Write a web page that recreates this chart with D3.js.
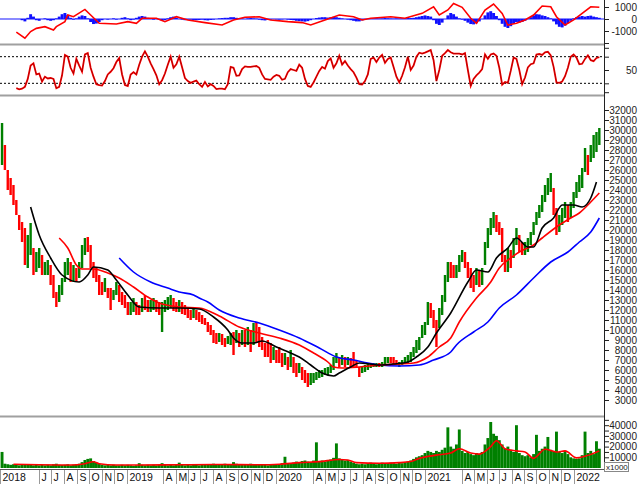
<!DOCTYPE html>
<html><head><meta charset="utf-8">
<script src="https://cdn.jsdelivr.net/npm/d3@7"></script>
<style>body{margin:0;background:#fff}svg{display:block}</style>
</head><body>
<svg id="chart" width="640" height="484"></svg>
<script>
// ---------------- DATA (weekly samples) ----------------
const firstWeek = "2018-03-02";
const priceHigh = [
30700,28500,26000,25200,24500,23000,21500,20800,20200,19500,
20700,18200,17800,18200,17500,16800,17000,16500,15500,13800,
14500,15200,16800,17200,16800,16500,16200,16800,18500,19200,
19300,18500,16800,16200,15500,14800,15200,14200,14200,14000,
14800,14500,13800,13500,12800,12800,13200,12800,12500,13200,
13500,13000,13000,13200,13000,12800,12800,13000,13300,13500,
13200,12800,13000,12800,12500,12300,12000,12200,12000,11800,
11500,11200,10800,10500,10000,9700,9700,9600,9200,9400,
9700,9800,10000,9700,10000,10000,10300,10000,10700,10800,
10300,9300,8700,9000,8700,8300,8000,8300,7700,7700,
7300,8000,7300,6700,6700,6300,6000,5700,5700,5700,
5800,6000,6000,6200,6300,6500,7300,7700,7300,7500,
7300,7300,7200,7800,7000,6300,6300,6500,6700,6700,
6700,6700,6700,6800,7300,7300,7300,7300,7000,6800,
7000,7300,7500,7800,8300,9000,9300,10500,10800,12800,
12700,12000,11000,12200,13500,15500,16800,16800,16500,16500,
17500,18000,17800,16800,16200,15500,16200,16000,16200,18800,
20200,21200,21800,21500,20800,20200,17500,18200,18000,19200,
20200,19500,18800,18800,19200,19800,20800,21800,22500,23500,
24500,25200,25700,24200,22200,21500,22200,22800,22500,22800,
23800,24800,25500,26200,28200,27500,28500,29500,29800,30200];
const priceLow = [
26500,26000,24000,23500,22500,21500,20000,18800,16500,16200,
17500,15500,15800,16200,15500,15500,15500,14500,13200,12300,
12800,13500,14800,15500,14800,14800,14800,15200,16200,17500,
17800,16200,15200,14800,13500,13500,13800,13200,12000,13000,
13500,12800,12500,12200,11500,11500,11800,11500,11500,11800,
12000,11800,11800,12000,11800,11500,9800,11800,12000,12200,
11900,11800,11800,11600,11500,11200,11000,11200,11000,10800,
10600,10500,9800,9500,8700,8600,8800,8500,8300,8600,
8500,7500,8700,8300,8500,8300,8500,7800,8500,8700,
8300,8000,7300,7300,6700,7000,6700,6700,6300,6500,
6000,6300,5700,5300,5700,5000,4700,4300,4500,4700,
5000,5200,5300,5500,5500,5700,6000,6700,6300,6500,
6300,6500,6300,6300,6200,5300,5700,5800,6000,6200,
6300,6300,6300,6300,6500,6700,6700,6500,6500,6300,
6500,6700,6700,6800,7300,7700,8000,9200,9500,10500,
11200,10200,8300,10200,11500,12800,14800,15200,15200,15200,
15800,16800,16200,15200,14200,13800,14500,14300,14500,16500,
18200,19500,20200,19800,19500,16800,15800,15800,16200,17200,
18500,17800,17500,17500,17800,18500,19500,20500,21200,21800,
22800,23500,23800,21500,19500,19800,20500,21200,20800,21200,
22200,23200,23800,24200,25800,25500,26800,27200,27800,28500];
const priceClose = [
28500,26500,24500,24000,23000,21800,20500,19000,17000,17500,
18500,16500,16800,17000,16000,16200,16500,15000,13500,12800,
14000,14800,16000,16500,15500,15500,15200,16000,17500,18800,
18500,16500,15800,15500,14500,14200,14800,13800,13500,13500,
14000,13500,13000,12500,12000,12200,12500,12000,11800,12800,
12500,12300,12500,12800,12200,12000,12000,12500,12800,13000,
12300,12200,12300,12000,11800,11600,11500,11800,11300,11200,
10900,10800,10200,9800,9200,9000,9300,8800,8600,9000,
9300,9000,9500,9000,9200,9000,9300,8500,9500,9200,
8800,8500,8000,7800,7500,7500,7200,7000,6800,7000,
6500,6800,6200,5800,6200,5500,5200,4800,5000,5300,
5500,5600,5700,5900,6000,6200,7000,7200,6900,7100,
6800,7000,6800,6700,6500,5700,6000,6200,6400,6500,
6500,6600,6500,6600,7000,7100,7000,6900,6700,6700,
6800,7100,7300,7500,8000,8500,9000,10000,10500,12300,
12000,10800,9800,11500,13000,15000,16300,15800,15700,16000,
17000,17500,16500,15800,14800,14500,15500,14800,15800,18000,
19500,20800,21000,20500,20000,17500,16500,17200,17000,18500,
19500,18500,18000,18200,18800,19300,20500,21500,22000,23000,
24000,24500,24800,22000,20500,21000,21500,22300,21800,22500,
23500,24500,25000,25500,27500,26500,28000,28500,29000,29500];
const volume = [
15000,4000,3500,3000,3500,3000,2500,3000,3500,3000,
3500,2500,3000,2500,3000,2500,3000,2500,3500,4000,
3000,2800,3000,3500,2500,3000,3500,4000,5500,7500,
8500,9000,6500,5000,4000,3000,2500,3000,2500,3000,
2500,2500,3000,2500,3000,2500,2000,2500,4500,3000,
2500,3000,2500,3000,2500,3000,4500,3000,2500,3000,
2500,3500,5000,3000,2500,3000,2500,3000,3000,2500,
3500,3000,3500,3000,4000,3500,3000,3500,4000,3000,
3500,5500,4000,3500,3000,3500,3000,4000,3000,3500,
3000,3500,3000,2500,3000,3500,3000,3500,4500,10500,
4000,4500,5000,6000,5500,6500,7000,6000,5500,7000,
24000,6500,7000,6000,7500,8000,9500,23000,9000,8000,
7000,7500,6000,5000,4000,3500,4000,3500,4000,5000,
4000,3500,4500,5000,4000,4500,5000,4500,4000,5000,
4500,5500,6000,7000,8500,10000,11000,12000,14000,16000,
15000,14000,16000,15000,17000,19000,38000,20000,18000,22000,
36000,16000,14000,15000,13000,12000,14000,13000,15000,22000,
28000,43000,32000,30000,26000,22000,18000,20000,17000,15000,
40000,14000,12000,11000,12000,10000,13000,31000,16000,18000,
20000,29000,17000,16000,34000,15000,14000,16000,13000,10000,
9000,8500,9000,12000,34000,14000,16000,13000,25000,18000];
const rsi = [
null,null,null,null,null,9,6.5,8,12,30,
60,65,40,42,24,35,31,32,30,9,
12,38,84,80,55,42,75,60,46,85,
88,55,35,18,16,15,25,40,46,54,
68,77,40,16,14,40,45,40,62,80,
92,80,65,52,38,18,27,42,62,80,
55,63,80,56,32,25,21,24,26,18,
12,23,13,18,14,7,8,8,6.5,18,
57,55,37,38,52,58,57,57,58,59,
55,40,30,29,28,35,39,37,28,30,
45,52,50,48,62,55,30,14,12,22,
35,48,57,53,70,76,55,65,82,62,
70,60,52,45,33,18,17,25,40,75,
78,68,78,84,66,75,78,57,35,22,
37,56,80,50,60,80,89,87,89,92,
95,72,25,50,82,88,95,90,87,87,
87,85,88,50,14,30,38,44,52,85,
75,85,87,82,55,17,23,21,48,78,
75,50,18,33,56,63,65,85,86,84,
90,91,83,57,22,21,24,36,55,80,
85,78,63,64,75,83,72,70,77,79];
const macdHist = [
null,null,null,null,null,null,null,-100,-200,100,
400,200,-100,-150,0,50,-100,-150,-100,50,
200,400,500,350,100,-50,50,200,300,250,
50,-250,-420,-380,-250,-100,0,-50,0,50,
-50,0,100,150,50,-100,-50,100,200,250,
200,100,0,-50,50,-50,-150,-100,50,150,
200,100,0,-50,-100,-50,-50,-80,-100,-80,
-50,-100,-120,-80,-50,0,50,80,100,100,
150,150,100,80,50,0,50,80,50,30,
-50,-100,-120,-80,-50,0,-30,-50,-30,0,
-50,-80,-100,-150,-180,-200,-220,-180,-100,0,
80,120,150,150,120,150,180,150,100,50,
0,-50,-100,-150,-200,-200,-120,-50,0,30,
50,60,40,50,80,60,40,30,50,40,
50,80,100,80,100,150,200,250,300,250,
200,-100,-400,-500,-300,0,300,500,400,200,
50,-50,-150,-300,-420,-450,-350,-200,0,300,
550,650,500,250,-100,-400,-650,-750,-600,-400,
-250,-300,-250,-150,0,150,300,400,380,300,
250,150,50,-200,-450,-650,-700,-550,-350,-150,
50,150,200,250,200,250,280,200,150,100];
// sparse series: [week index, value]
const ma50 = [[10,22300],[13,19500],[17,17200],[21,15500],[27,14800],[30,15500],[32,16300],[37,16000],[40,15000],[44,13500],[48,12300],[55,12200],[62,12200],[69,12100],[74,11300],[79,10000],[81,9200],[84,8700],[88,8700],[91,8900],[96,8300],[101,7700],[104,7300],[108,6500],[112,5700],[116,5400],[118,5700],[122,6300],[125,6700],[129,6600],[132,6500],[137,6600],[142,6800],[145,7300],[149,8300],[152,9700],[157,11700],[163,14800],[166,16000],[170,15800],[173,17200],[177,18200],[180,19200],[184,18300],[186,18300],[189,20200],[193,21200],[196,22500],[200,22500],[203,22300],[206,23200],[208,24800]];
const ma100 = [[20,19200],[23,18200],[26,16500],[28,16100],[32,16100],[37,15700],[41,15200],[46,14300],[51,13300],[55,12700],[62,12300],[69,12200],[76,11400],[83,10300],[90,9700],[97,9200],[104,8500],[109,7700],[114,6800],[116,6300],[119,6200],[125,6300],[132,6500],[139,6600],[144,6700],[149,7300],[153,8300],[157,9200],[160,10800],[166,13200],[171,14800],[174,16200],[178,17200],[181,17800],[186,18500],[189,19200],[194,20300],[199,21200],[202,21700],[206,22800],[209,23700]];
const ma200 = [[41,17200],[46,15800],[52,14800],[58,14200],[62,13800],[67,13500],[69,13200],[72,12800],[76,12000],[83,11200],[90,10700],[97,10000],[104,9200],[111,8200],[117,7300],[123,7000],[128,6700],[132,6500],[139,6400],[146,6500],[151,7000],[157,7800],[159,8500],[165,9800],[170,10800],[174,12200],[180,13500],[186,15200],[192,16800],[198,17800],[202,18800],[206,19800],[209,21200]];
const macdLine = [[5,-1100],[8,-1600],[10,-1050],[12,-780],[15,-640],[18,-920],[19,-640],[22,-220],[23,330],[25,190],[29,800],[31,330],[34,-360],[40,-420],[44,-220],[47,-360],[49,60],[54,60],[57,-220],[61,190],[65,-80],[71,-300],[77,-500],[81,-80],[85,140],[90,190],[94,-80],[100,-220],[105,-300],[108,-500],[113,-80],[118,330],[123,190],[126,-80],[129,60],[136,190],[141,60],[147,470],[151,1020],[153,330],[156,750],[158,1300],[161,975],[164,60],[166,-360],[169,750],[172,1250],[175,470],[177,-500],[180,-360],[183,-80],[186,330],[189,1080],[192,1020],[194,190],[197,-500],[200,-80],[203,470],[206,1020],[209,975]];
const volumeMA = [[4,3500],[13,3000],[24,2800],[29,4000],[32,5800],[34,4000],[40,2800],[48,2800],[62,3000],[76,3300],[90,3000],[97,3500],[104,5000],[111,6000],[118,8000],[121,7500],[124,5000],[132,4500],[139,5000],[143,6000],[146,9000],[152,12000],[157,14000],[160,18000],[164,14000],[167,13000],[171,20000],[173,25500],[176,18000],[180,16000],[183,15000],[186,9000],[190,17500],[194,15000],[197,16000],[201,9500],[204,11000],[209,16000]];
// tick labels
const priceTicks = [3000,4000,5000,6000,7000,8000,9000,10000,11000,12000,13000,14000,15000,16000,17000,18000,19000,20000,21000,22000,23000,24000,25000,26000,27000,28000,29000,30000,31000,32000];
const macdTicks = [-2000,-1000,0,1000];
const macdLabels = [-1000,0,1000];
const rsiTicks = [0,20,50,80,100];
const rsiLabels = [50];
const rsiBands = [80,20];
const volTicks = [5000,10000,15000,20000,25000,30000,35000,40000,45000];
const volLabels = [10000,20000,30000,40000];
const xTicks = [["2018-02-25","2018"],["2018-06-01","J"],["2018-07-01","J"],["2018-08-01","A"],["2018-09-01","S"],["2018-10-01","O"],["2018-11-01","N"],["2018-12-01","D"],
["2019-01-01","2019"],["2019-04-01","A"],["2019-05-01","M"],["2019-06-01","J"],["2019-07-01","J"],["2019-08-01","A"],["2019-09-01","S"],["2019-10-01","O"],["2019-11-01","N"],["2019-12-01","D"],
["2020-01-01","2020"],["2020-04-01","A"],["2020-05-01","M"],["2020-06-01","J"],["2020-07-01","J"],["2020-08-01","A"],["2020-09-01","S"],["2020-10-01","O"],["2020-11-01","N"],["2020-12-01","D"],
["2021-01-01","2021"],["2021-04-01","A"],["2021-05-01","M"],["2021-06-01","J"],["2021-07-01","J"],["2021-08-01","A"],["2021-09-01","S"],["2021-10-01","O"],["2021-11-01","N"],["2021-12-01","D"],
["2022-01-01","2022"]];

// ---------------- DRAWING ----------------
const svg = d3.select("#chart");
const FONT = "'Liberation Sans', Arial, sans-serif";
const AX = 604;
const parse = d3.utcParse("%Y-%m-%d");
const t0 = parse(firstWeek);
const dates = priceClose.map((_, i) => d3.utcDay.offset(t0, 7 * i));
const x = d3.scaleUtc().domain([parse("2018-02-25"), parse("2022-03-13")]).range([0, 603]);
const yM = d3.scaleLinear().domain([-2000, 1000]).range([43, 7]);
const yR = d3.scaleLinear().domain([0, 100]).range([92.2, 47.8]);
const yP = d3.scaleLinear().domain([2000, 32000]).range([410, 110]);
const yV = d3.scaleLinear().domain([0, 40000]).range([468, 425.2]);

const defs = svg.append("defs");
function panel(id, y0, y1) {
  defs.append("clipPath").attr("id", id).append("rect")
    .attr("x", 0).attr("y", y0).attr("width", AX).attr("height", y1 - y0);
  return svg.append("g").attr("clip-path", `url(#${id})`);
}
const gM = panel("cm", 0, 44);
const gR = panel("cr", 46, 95);
const gP = panel("cp", 97, 416);
const gV = panel("cv", 418, 469);

const sparseLine = (ys, curve) => d3.line()
  .x(d => x(dates[d[0]])).y(d => ys(d[1])).curve(curve);

// MACD panel
gM.append("line").attr("x1", 0).attr("x2", AX).attr("y1", yM(0)).attr("y2", yM(0))
  .attr("stroke", "#8a8aff").attr("stroke-width", 2);
gM.selectAll("rect.h").data(macdHist.map((v, i) => [i, v]).filter(d => d[1] !== null))
  .join("rect").attr("class", "h")
  .attr("x", d => x(dates[d[0]]) - 1.45).attr("width", 2.9)
  .attr("y", d => Math.min(yM(0), yM(d[1]))).attr("height", d => Math.abs(yM(d[1]) - yM(0)))
  .attr("fill", "#1010ff");
gM.append("path").datum(macdLine).attr("d", sparseLine(yM, d3.curveLinear))
  .attr("fill", "none").attr("stroke", "#ff0000").attr("stroke-width", 1.6);

// RSI panel
rsiBands.forEach(b => gR.append("line").attr("x1", 0).attr("x2", AX)
  .attr("y1", yR(b)).attr("y2", yR(b)).attr("stroke", "#000").attr("stroke-dasharray", "2,2"));
const rsiGen = d3.line().defined(d => d !== null).x((d, i) => x(dates[i])).y(d => yR(d));
gR.append("path").datum(rsi).attr("d", rsiGen).attr("fill", "none").attr("stroke", "#ff0000").attr("stroke-width", 1.8);
gR.append("path").datum(rsi).attr("d", rsiGen).attr("fill", "none").attr("stroke", "#000")
  .attr("stroke-width", 0.5).attr("stroke-opacity", 0.55);

// Price panel
gP.selectAll("rect.b").data(priceClose.map((c, i) => i)).join("rect").attr("class", "b")
  .attr("x", i => x(dates[i]) - 1.2).attr("width", 2.4)
  .attr("y", i => yP(priceHigh[i])).attr("height", i => yP(priceLow[i]) - yP(priceHigh[i]))
  .attr("fill", i => (i === 0 || priceClose[i] >= priceClose[i - 1]) ? "#008000" : "#ff0000");
[[ma200, "#0000ff"], [ma100, "#ff0000"], [ma50, "#000000"]].forEach(([s, c]) =>
  gP.append("path").datum(s).attr("d", sparseLine(yP, d3.curveMonotoneX))
    .attr("fill", "none").attr("stroke", c).attr("stroke-width", 1.6));

// Volume panel
gV.selectAll("rect.v").data(volume.map((v, i) => [i, v])).join("rect").attr("class", "v")
  .attr("x", d => x(dates[d[0]]) - 1.45).attr("width", 2.9)
  .attr("y", d => yV(d[1])).attr("height", d => yV(0) - yV(d[1]))
  .attr("fill", "#008000");
gV.append("path").datum(volumeMA).attr("d", sparseLine(yV, d3.curveMonotoneX))
  .attr("fill", "none").attr("stroke", "#ff0000").attr("stroke-width", 1.6);

// separators
[44.5, 95.5, 416.5].forEach(y => svg.append("line").attr("x1", 0).attr("x2", AX)
  .attr("y1", y).attr("y2", y).attr("stroke", "#a0a0a0").attr("stroke-width", 2));
svg.append("line").attr("x1", 0).attr("x2", AX).attr("y1", 469.5).attr("y2", 469.5).attr("stroke", "#555");

// right axes
function rightAxis(scale, ticks, labels) {
  const g = svg.append("g").attr("transform", `translate(${AX},0)`)
    .call(d3.axisRight(scale).tickValues(ticks).tickSize(5)
      .tickFormat(d => labels.includes(d) ? String(d) : ""));
  g.select(".domain").remove();
  g.selectAll(".tick line").attr("stroke", "#222");
  g.selectAll(".tick text").attr("x", 33).attr("text-anchor", "end")
    .attr("font-family", FONT).attr("font-size", 10).attr("fill", "#222");
  return g;
}
rightAxis(yM, macdTicks, macdLabels);
rightAxis(yR, rsiTicks, rsiLabels);
rightAxis(yP, priceTicks, priceTicks);
rightAxis(yV, volTicks, volLabels);
svg.append("line").attr("x1", AX + 0.5).attr("x2", AX + 0.5).attr("y1", 0).attr("y2", 470)
  .attr("stroke", "#222");

// x1000 box
svg.append("rect").attr("x", AX + 0.5).attr("y", 462.5).attr("width", 24).attr("height", 9)
  .attr("fill", "#fff").attr("stroke", "#888");
svg.append("text").attr("x", AX + 2).attr("y", 470).text("x1000")
  .attr("font-family", FONT).attr("font-size", 8).attr("fill", "#222");

// x axis labels
const gx = svg.append("g");
xTicks.forEach(([d, lab]) => {
  const px = Math.round(x(parse(d))) + 0.5;
  gx.append("line").attr("x1", px).attr("x2", px).attr("y1", 470).attr("y2", 484).attr("stroke", "#999");
  gx.append("text").attr("x", px + 2).attr("y", 481).text(lab)
    .attr("font-family", FONT).attr("font-size", 10.5).attr("fill", "#111");
});
</script>
</body></html>
